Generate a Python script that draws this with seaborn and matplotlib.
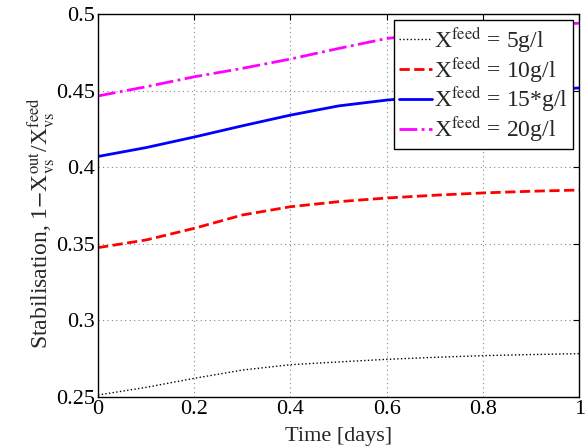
import numpy as np
import pandas as pd
import matplotlib
matplotlib.use("Agg")
import matplotlib.pyplot as plt
import seaborn as sns

time_days = [0.0, 0.1, 0.2, 0.3, 0.4, 0.5, 0.6, 0.7, 0.8, 0.9, 1.0]
stab_5 = [0.2513, 0.2563, 0.2622, 0.2676, 0.2711, 0.2729, 0.2746, 0.2759, 0.2770, 0.2777, 0.2783]
stab_10 = [0.3475, 0.3525, 0.3601, 0.3688, 0.3742, 0.3775, 0.3799, 0.3817, 0.3832, 0.3843, 0.3851]
stab_15 = [0.407, 0.4128, 0.4197, 0.427, 0.434, 0.440, 0.4438, 0.4465, 0.4485, 0.4502, 0.4517]
stab_20 = [0.4465, 0.4525, 0.459, 0.4645, 0.4706, 0.4775, 0.484, 0.4875, 0.490, 0.492, 0.494]
labels = [r"X$^{\rm feed}$ = 5g/l", r"X$^{\rm feed}$ = 10g/l",
          r"X$^{\rm feed}$ = 15*g/l", r"X$^{\rm feed}$ = 20g/l"]
x_ticks = [0, 0.2, 0.4, 0.6, 0.8, 1]
x_ticklabels = ["0", "0.2", "0.4", "0.6", "0.8", "1"]
y_ticks = [0.25, 0.3, 0.35, 0.4, 0.45, 0.5]
y_ticklabels = ["0.25", "0.3", "0.35", "0.4", "0.45", "0.5"]

sns.set_style("white")
plt.rcParams["font.family"] = ["Liberation Serif", "DejaVu Serif"]
plt.rcParams["mathtext.fontset"] = "stix"

fig = plt.figure(figsize=(5.88, 4.48), dpi=100)
ax = fig.add_axes([0.1667, 0.1138, 0.8183, 0.855])

series = [stab_5, stab_10, stab_15, stab_20]
colors = ["black", "red", "blue", "magenta"]
styles = [":", "--", "-", "-."]
widths = [1.0, 2.0, 2.0, 2.0]
for vals, lab, c, ls, lw in zip(series, labels, colors, styles, widths):
    df = pd.DataFrame({"t": time_days, "v": vals})
    sns.lineplot(data=df, x="t", y="v", ax=ax, color=c, linestyle=ls,
                 linewidth=lw, label=lab)

ax.set_xlim(0, 1)
ax.set_ylim(0.25, 0.5)
ax.set_xticks(x_ticks)
ax.set_xticklabels(x_ticklabels)
ax.set_yticks(y_ticks)
ax.set_yticklabels(y_ticklabels)
ax.grid(True, color="#888888", linestyle=(0, (1, 3)), linewidth=0.8)
ax.tick_params(direction="in", length=4, labelsize=16, pad=2,
               top=True, right=True, colors="black")
for s in ax.spines.values():
    s.set_color("black")
    s.set_linewidth(1.0)
ax.set_xlabel("Time [days]", fontsize=16, labelpad=6)
ax.set_ylabel(r"Stabilisation, 1$-$X$_{\rm vs}^{\rm out}$/X$_{\rm vs}^{\rm feed}$",
              fontsize=17)
ax.yaxis.set_label_coords(-0.085, 0.455)
leg = ax.legend(loc="upper right", fontsize=17, frameon=True, fancybox=False,
                edgecolor="black", framealpha=1, borderaxespad=0.25,
                handlelength=1.4, handletextpad=0.1, labelspacing=0.0,
                borderpad=0.2)
leg.get_frame().set_linewidth(1.0)

fig.savefig("out.png", dpi=100)
